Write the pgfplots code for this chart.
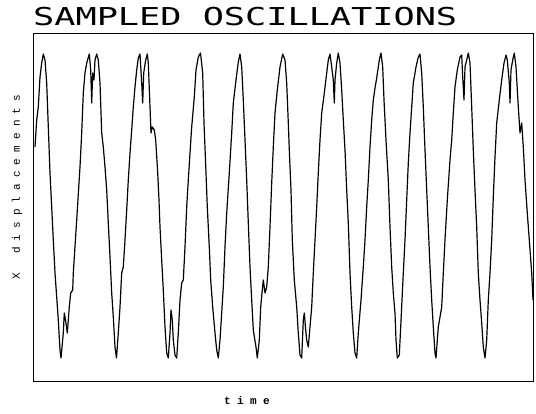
\documentclass[border=0pt]{standalone}
\usepackage{fontspec}
\usepackage{pgfplots}
\pgfplotsset{compat=1.18}
\setmainfont{Liberation Mono}
\newfontfamily\plotfont{Liberation Mono}
\newfontfamily\titlefont{DejaVu Sans Mono}

% each letter in a box of fixed width, as a plotter writes it
\makeatletter
\newcommand\spaced[2]{\@tfor\c:=#2\do{\makebox[#1][c]{\c}}}
\makeatother

\pgfplotstableread{
x y
35 147
36.7 120
38.3 107
40 77
41.7 63
43.3 54
45 60
46.7 83
48.3 127
50 173
51.7 207
53.3 240
55 273
56.7 297
58.3 320
60 350
61 358
63.3 333
64.3 313
66 323
67.3 333
69.3 307
70.7 293
72.7 290
73.3 273
76.7 220
80 167
81.7 133
83.3 93
85 73
86.7 63
89.3 54
90.7 70
91.7 103
92.7 73
94 80
95 60
96.7 54
98.3 60
100 83
101.7 133
103.3 147
105 167
106.7 190
108.3 223
110 257
111.7 293
113.3 317
115 347
116.5 358
118.3 333
120 307
121.7 273
123.3 267
125 240
126.7 210
128.3 180
130 153
131.7 130
133.3 107
135 87
136.7 70
138.3 58
140 54
141.7 83
142.7 103
143.7 73
145.7 60
147.3 54
148.3 63
150 107
151 133
152.3 127
154.3 130
155.7 140
157.7 173
159 200
160 227
161.7 260
163.3 290
165 327
166.7 353
168.3 358
170 333
171 310
172.3 320
173.3 340
175 355
176.7 358
178.3 333
180 300
181.7 283
183.3 280
185 247
186.7 207
188.3 180
190 153
191.7 127
194.3 97
196 70
198.3 57
200.5 53
202.7 73
204 123
206 173
207.3 207
209.3 247
210.7 280
212.7 307
215 333
216.7 350
218.3 358
220 340
221.7 313
223.3 287
225 247
226.7 213
229.3 173
231.7 133
233.3 103
236 80
238.3 62
240 54
241.7 67
243.3 100
245 140
246.7 180
248.3 223
250 267
251.7 300
253.3 330
256 347
257.3 358
259.3 340
260.7 307
262 293
263.3 280
265 293
266.7 287
268.3 267
270 227
271.7 183
273.3 147
275 113
277.3 90
280 67
282.7 54
285 60
286.7 83
288.3 123
289.3 150
291 190
292.3 240
294.3 280
296.7 307
298.3 333
300 355
301.7 358
303.3 320
304.3 313
305.7 330
306.7 340
308.3 347
310 327
311.7 307
313.3 273
315 240
316.7 207
318.3 173
320 140
321.7 113
324.3 93
326.7 73
328.3 60
330 54
331.7 67
333.3 80
334.3 103
335 80
336.7 63
338.3 53
340 63
341.7 90
343.3 120
345 150
346.7 190
348.3 223
350 273
351.7 307
353.3 333
355 353
356.7 358
358.3 333
361 300
363.3 267
365 240
366.7 207
368.3 180
370 147
371.7 120
373.3 100
375 88
376.7 78
379.3 60
381 53
382.7 67
384 100
386 140
388.3 180
390 227
391.7 267
393.3 293
395 313
396 340
397.3 358
399.3 355
400.7 327
402 300
403.3 273
405 240
406.7 200
408.3 163
410 133
411.7 107
413.3 83
416 67
418.3 57
420 54
421.7 73
423.3 107
425 150
426.7 190
428.3 227
430 267
431.7 300
433.3 327
435 353
436 358
438.3 327
440 317
441.7 307
443.3 273
445 240
447.3 200
450 160
451.7 140
453.3 113
455 87
457.3 70
460 57
461.7 55
462.7 77
464 100
465 67
466.7 60
468.3 53
470 63
471.7 107
473.3 150
475 190
476.7 227
478.3 273
480 300
481.7 323
483.3 347
485 358
486.7 340
488.3 300
490 273
491.7 240
493.3 197
495 157
496.7 123
499.3 100
501.7 80
504 63
506 55
507.3 60
509.3 83
510 103
511 70
512.7 60
514.3 53
516 67
518.3 107
520 133
521.7 123
523.3 147
525 180
527.3 213
529.3 240
531.7 273
533 300
}\signal

\begin{document}
\begin{tikzpicture}
\useasboundingbox (-33pt,-33pt) rectangle (503pt,381pt);
\begin{axis}[
    at={(0pt,0pt)}, anchor=south west,
    scale only axis,
    width=500pt, height=348pt,
    xmin=33, xmax=533,
    ymin=33, ymax=381,
    y dir=reverse,
    xtick=\empty, ytick=\empty,
    axis line style={line width=0.8pt},
    title={\resizebox{424pt}{!}{\scalebox{1}[0.7]{SAMPLED OSCILLATIONS}}},
    title style={at={(axis description cs:0,1)}, anchor=base west,
        yshift=1pt, inner sep=0pt, font=\titlefont\fontsize{24}{28}\selectfont},
    xlabel={\spaced{13pt}{time}},
    xlabel style={at={(axis description cs:0.428,-0.055)}, anchor=center,
        inner sep=0pt, font=\plotfont\bfseries\fontsize{11}{13}\selectfont},
    ylabel={\spaced{12.7pt}{X\ displacements}},
    ylabel style={at={(axis description cs:-0.032,0.557)}, anchor=center,
        inner sep=0pt, font=\plotfont\fontsize{11}{13}\selectfont},
    ]
\addplot[black, line width=1.2pt, line join=round] table[x=x, y=y] {\signal};
\end{axis}
\end{tikzpicture}
\end{document}
